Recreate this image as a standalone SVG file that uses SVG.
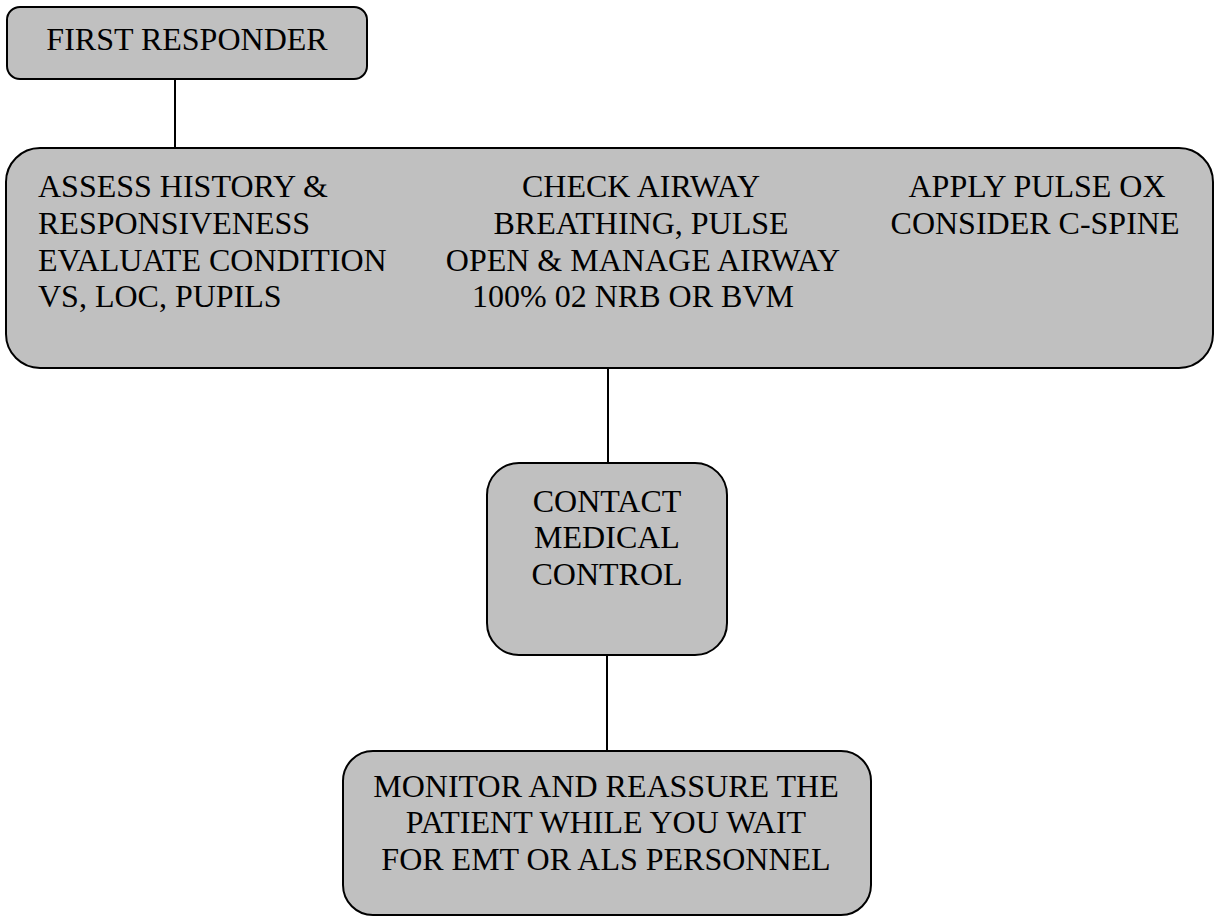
<svg xmlns="http://www.w3.org/2000/svg" width="1215" height="918" viewBox="0 0 1215 918">
<style>
.box{fill:#c0c0c0;stroke:#000;stroke-width:2}
.t{font-family:'Liberation Serif','Times New Roman',Times,'DejaVu Serif',serif;font-size:32px;fill:#000}
.m{text-anchor:middle}
.c{stroke:#000;stroke-width:2;fill:none}
</style>
<rect width="1215" height="918" fill="#fff"/>
<g id="connectors">
<line class="c" x1="175" y1="79" x2="175" y2="152"/>
<line class="c" x1="608" y1="368" x2="608" y2="463"/>
<line class="c" x1="607" y1="655" x2="607" y2="751"/>
</g>
<g id="first-responder">
<rect class="box" x="7" y="7" width="360" height="72" rx="13"/>
<text class="t m" x="187" y="50" font-family="Liberation Serif, serif">FIRST RESPONDER</text>
</g>
<g id="assess">
<rect class="box" x="6" y="148" width="1207" height="220" rx="34"/>
<text class="t" x="38" y="197">ASSESS HISTORY &amp;</text>
<text class="t" x="38" y="234">RESPONSIVENESS</text>
<text class="t" x="38" y="271">EVALUATE CONDITION</text>
<text class="t" x="38" y="307">VS, LOC, PUPILS</text>
<text class="t m" x="641" y="197">CHECK AIRWAY</text>
<text class="t m" x="641" y="234">BREATHING, PULSE</text>
<text class="t m" x="643" y="271">OPEN &amp; MANAGE AIRWAY</text>
<text class="t m" x="633" y="307">100% 02 NRB OR BVM</text>
<text class="t m" x="1037" y="197">APPLY PULSE OX</text>
<text class="t m" x="1035" y="234">CONSIDER C-SPINE</text>
</g>
<g id="contact">
<rect class="box" x="487" y="463" width="240" height="192" rx="32"/>
<text class="t m" x="607" y="512">CONTACT</text>
<text class="t m" x="607" y="548">MEDICAL</text>
<text class="t m" x="607" y="585">CONTROL</text>
</g>
<g id="monitor">
<rect class="box" x="343" y="751" width="528" height="164" rx="30"/>
<text class="t m" x="606" y="797">MONITOR AND REASSURE THE</text>
<text class="t m" x="606" y="833">PATIENT WHILE YOU WAIT</text>
<text class="t m" x="606" y="870">FOR EMT OR ALS PERSONNEL</text>
</g>
</svg>
